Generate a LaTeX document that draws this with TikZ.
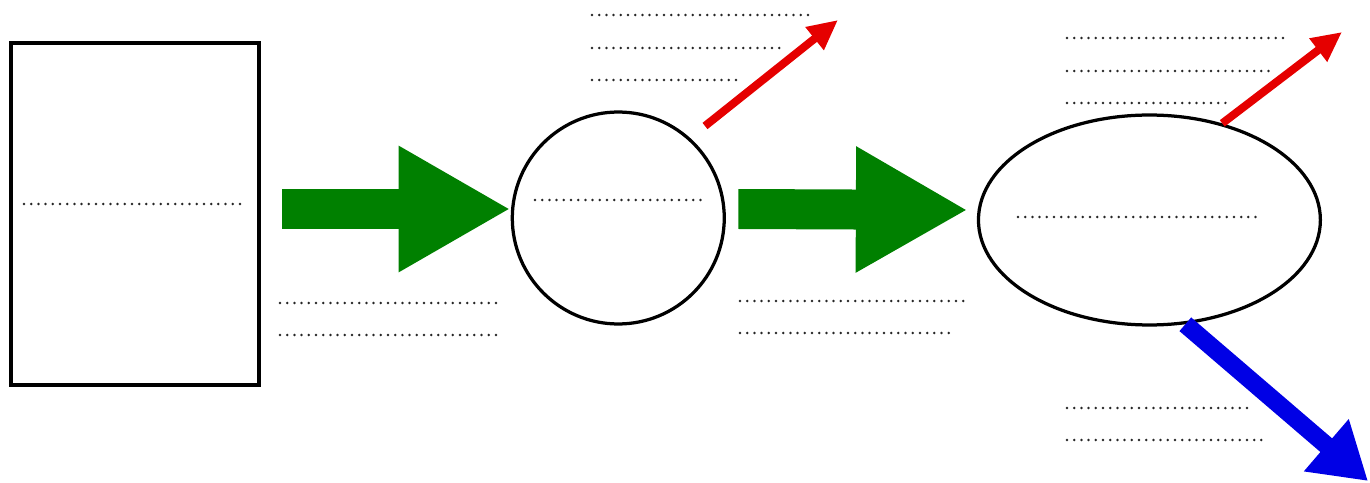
\documentclass[tikz,border=0pt]{standalone}
\usetikzlibrary{positioning,arrows.meta,shapes.geometric}

\begin{document}
\begin{tikzpicture}[
    x=0.02cm, y=-0.02cm,
    stage/.style={
        draw,
        fill=white,
        inner sep=0pt
    },
    sheet/.style={stage, rectangle, line width=0.09cm,
        minimum width=4.96cm, minimum height=6.84cm},
    round/.style={stage, circle, line width=0.065cm, minimum size=4.24cm},
    oval/.style={stage, ellipse, line width=0.065cm,
        minimum width=6.84cm, minimum height=4.2cm},
    flow/.style={-{Triangle[length=2.24cm, width=2.36cm]},
        line width=0.8cm, green!50!black},
    loss/.style={-{Triangle[length=0.6cm, width=0.55cm]},
        line width=0.16cm, red!90!black},
    waste/.style={-{Triangle[length=1.1cm, width=1.3cm]},
        line width=0.36cm, blue!90!black},
    blank/.style={line width=0.055cm, black!85, line cap=round,
        dash pattern=on 0pt off 0.144cm}
]
\useasboundingbox (0,0) rectangle (1370,483);

% ============================================================
% KSZTALTY
% ============================================================
\node[sheet] (box) at (135,214) {};
\node[round, right=4.99cm of box, yshift=-0.08cm] (circ) {};
\node[oval, right=5.02cm of circ, yshift=-0.04cm] (ell) {};

\draw[blank] (24,204) -- (242,204);
\draw[blank] (535,200) -- (707,200);
\draw[blank] (1018,217) -- (1257,217);

% ============================================================
% STRZALKI
% ============================================================
\draw[flow] ([xshift=0.42cm, yshift=0.1cm]box.east) -- ([yshift=0.18cm]circ.west);
\draw[flow] ([xshift=0.25cm, yshift=0.18cm]circ.east) -- ([xshift=-0.18cm, yshift=0.2cm]ell.west);

\coordinate (out1a) at (705,126);
\coordinate (out1b) at (838,20);
\coordinate (out2b) at (1342,32);
\coordinate (out3b) at (1368,481);

\draw[loss] (out1a) -- (out1b);
\draw[loss] (ell.53) -- (out2b);
\draw[waste] (ell.-71) -- (out3b);

% ============================================================
% LINIE DO UZUPELNIENIA
% ============================================================
\draw[blank] (280,303) -- (496,303);
\draw[blank] (280,335) -- (496,335);

\draw[blank] (592,15) -- (808,15);
\draw[blank] (592,48) -- (780,48);
\draw[blank] (592,80) -- (737,80);

\draw[blank] (740,301) -- (965,301);
\draw[blank] (740,333) -- (952,333);

\draw[blank] (1067,38) -- (1285,38);
\draw[blank] (1067,71) -- (1270,71);
\draw[blank] (1067,103) -- (1228,103);

\draw[blank] (1067,408) -- (1248,408);
\draw[blank] (1067,440) -- (1263,440);

\end{tikzpicture}
\end{document}
